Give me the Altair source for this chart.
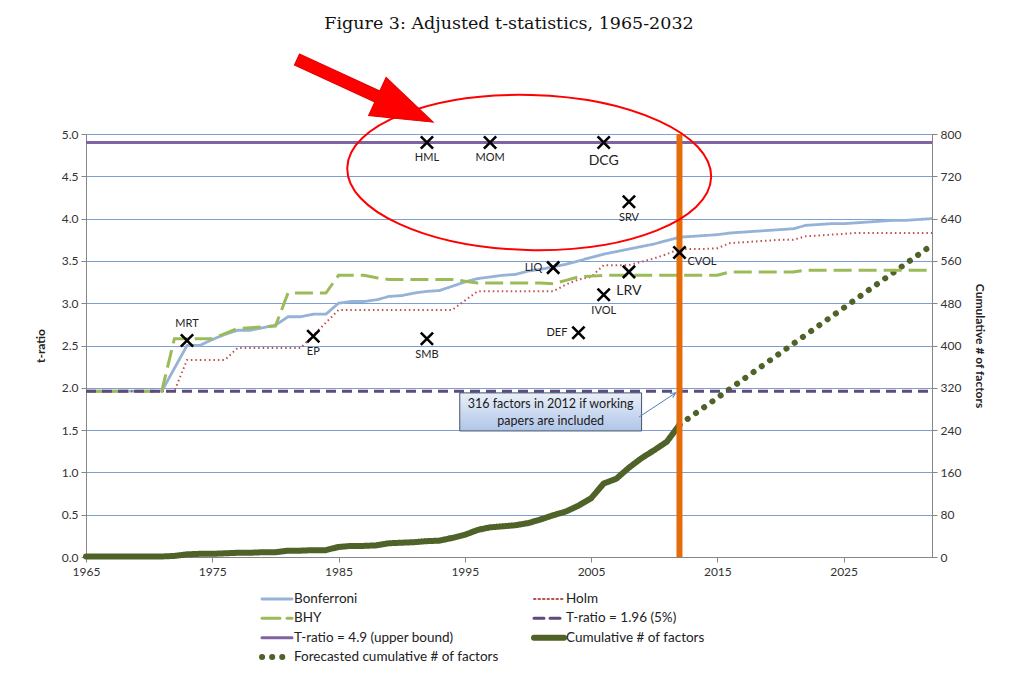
import altair as alt
import pandas as pd

# ---------------- data ----------------
years = list(range(1965, 2033))
bonferroni = [1.96, 1.96, 1.96, 1.96, 1.96, 1.96, 1.96, 2.23, 2.50, 2.50,
              2.57, 2.63, 2.68, 2.68, 2.71, 2.74, 2.84, 2.84, 2.87, 2.87,
              3.00, 3.02, 3.02, 3.04, 3.08, 3.09, 3.12, 3.14, 3.15, 3.20,
              3.25, 3.29, 3.31, 3.33, 3.34, 3.38, 3.40, 3.43, 3.46, 3.50,
              3.54, 3.58, 3.61, 3.64, 3.67, 3.70, 3.74, 3.78, 3.79, 3.80,
              3.81, 3.83, 3.84, 3.85, 3.86, 3.87, 3.88, 3.92, 3.93, 3.94,
              3.94, 3.95, 3.96, 3.97, 3.98, 3.98, 3.99, 4.00]
holm = [1.96, 1.96, 1.96, 1.96, 1.96, 1.96, 1.96, 1.96, 2.33, 2.33,
        2.33, 2.33, 2.47, 2.47, 2.47, 2.47, 2.47, 2.47, 2.62, 2.77,
        2.92, 2.92, 2.92, 2.92, 2.92, 2.92, 2.92, 2.92, 2.92, 2.92,
        3.03, 3.14, 3.14, 3.14, 3.14, 3.14, 3.14, 3.14, 3.22, 3.28,
        3.31, 3.45, 3.45, 3.45, 3.49, 3.53, 3.58, 3.64, 3.64, 3.64,
        3.65, 3.71, 3.72, 3.73, 3.74, 3.75, 3.75, 3.79, 3.80, 3.81,
        3.82, 3.83, 3.83, 3.83, 3.83, 3.83, 3.83, 3.83]
bhy = [1.96, 1.96, 1.96, 1.96, 1.96, 1.96, 1.96, 2.58, 2.58, 2.58,
       2.58, 2.64, 2.70, 2.71, 2.72, 2.73, 3.12, 3.12, 3.12, 3.12,
       3.33, 3.33, 3.33, 3.30, 3.28, 3.28, 3.28, 3.28, 3.28, 3.28,
       3.26, 3.24, 3.24, 3.24, 3.24, 3.24, 3.24, 3.23, 3.27, 3.31,
       3.32, 3.33, 3.33, 3.33, 3.33, 3.33, 3.33, 3.33, 3.33, 3.33,
       3.33, 3.37, 3.37, 3.37, 3.37, 3.37, 3.37, 3.39, 3.39, 3.39,
       3.39, 3.39, 3.39, 3.39, 3.39, 3.39, 3.39, 3.39]
threshold_years = [1965, 2032]
t_lower = 1.96
t_upper = 4.9

cum_years = list(range(1965, 2013))
cumulative = [1, 1, 1, 1, 1, 1, 1, 2, 5, 6,
              6, 7, 8, 8, 9, 9, 12, 12, 13, 13,
              19, 21, 21, 22, 26, 27, 28, 30, 31, 36,
              42, 51, 56, 58, 60, 64, 71, 79, 86, 97,
              111, 139, 148, 169, 187, 202, 218, 250]
fc_years = list(range(2012, 2033))
forecast = [250, 267, 284, 301, 318, 335, 352, 369, 386, 403, 420,
            437, 454, 471, 488, 505, 522, 539, 556, 573, 590]

series_names = ["Bonferroni", "Holm", "BHY", "T-ratio = 1.96 (5%)",
                "T-ratio = 4.9 (upper bound)", "Cumulative # of factors",
                "Forecasted cumulative # of factors"]

factor_names = ["MRT", "EP", "SMB", "HML", "MOM", "DCG", "SRV", "LIQ", "LRV", "IVOL", "DEF", "CVOL"]
factor_years = [1973, 1983, 1992, 1992, 1997, 2006, 2008, 2002, 2008, 2006, 2004, 2012]
factor_t = [2.56, 2.61, 2.58, 4.9, 4.9, 4.9, 4.20, 3.42, 3.37, 3.10, 2.65, 3.60]

cutoff_year = [2012]

callout_lines = ["316  factors in 2012 if  working", "papers are included"]
callout_line_t = [1.81, 1.61]
callout_year = 2001.8
callout_box_years = [1994.6, 2009.0]
callout_box_t = [1.49, 1.94]
pointer_years = [2008.8, 2011.7]
pointer_t = [1.655, 1.94]

ellipse_year = [2000.1]
ellipse_t = [4.545]
arrow_year = [1987.1]
arrow_t = [5.51]

# ---------------- tables ----------------
rows = []
for name, vals in [("Bonferroni", bonferroni), ("Holm", holm), ("BHY", bhy)]:
    rows += [{"year": y, "t": v, "series": name} for y, v in zip(years, vals)]
rows += [{"year": y, "t": t_lower, "series": "T-ratio = 1.96 (5%)"} for y in threshold_years]
rows += [{"year": y, "t": t_upper, "series": "T-ratio = 4.9 (upper bound)"} for y in threshold_years]
t_df = pd.DataFrame(rows)

c_rows = [{"year": y, "count": v, "series": "Cumulative # of factors"} for y, v in zip(cum_years, cumulative)]
c_rows += [{"year": y, "count": v, "series": "Forecasted cumulative # of factors"} for y, v in zip(fc_years, forecast)]
c_df = pd.DataFrame(c_rows)

factors_df = pd.DataFrame({"name": factor_names, "year": factor_years, "t": factor_t})

# legend entries, two per row (row-major, as in the reference)
leg_df = pd.DataFrame({"series": series_names,
                       "col": [i % 2 for i in range(len(series_names))],
                       "row": [i // 2 for i in range(len(series_names))]})

# ---------------- styling ----------------
FONT = "Lato"
style = {
    "Bonferroni": ("#95B3D7", [1, 0], 2.8),
    "Holm": ("#C0504D", [1.5, 3], 2),
    "BHY": ("#9BBB59", [18, 7], 3),
    "T-ratio = 1.96 (5%)": ("#604A7B", [10, 6], 3),
    "T-ratio = 4.9 (upper bound)": ("#8064A2", [1, 0], 3),
    "Cumulative # of factors": ("#4F6228", [1, 0], 6),
    "Forecasted cumulative # of factors": ("#4F6228", [0.1, 10], 6),
}
colors = [style[s][0] for s in series_names]
dashes = [style[s][1] for s in series_names]
widths = [style[s][2] for s in series_names]

color_scale = alt.Scale(type="ordinal", domain=series_names, range=colors)
dash_scale = alt.Scale(type="ordinal", domain=series_names, range=dashes)
width_scale = alt.Scale(type="ordinal", domain=series_names, range=widths)
color_enc = alt.Color("series:N", scale=color_scale, legend=None)
dash_enc = alt.StrokeDash("series:N", scale=dash_scale, legend=None)
width_enc = alt.StrokeWidth("series:O", scale=width_scale, legend=None)


def X(field="year", show=True):
    axis = alt.Axis(values=[1965, 1975, 1985, 1995, 2005, 2015, 2025], format="d", title=None,
                    grid=False, tickSize=5, domainColor="#868686", tickColor="#868686",
                    labelFont=FONT, labelFontSize=12, labelColor="#333333", labelPadding=4,
                    labelFlush=False) if show else None
    return alt.X(f"{field}:Q", scale=alt.Scale(domain=[1965, 2032], nice=False, zero=False), axis=axis)


def Y(field="t"):
    return alt.Y(f"{field}:Q", scale=alt.Scale(domain=[0, 5], nice=False, zero=True),
                 axis=alt.Axis(values=[0, 0.5, 1, 1.5, 2, 2.5, 3, 3.5, 4, 4.5, 5], format=".1f",
                               title="t-ratio", titleFont=FONT, titleFontSize=12, titleFontWeight="bold",
                               titleColor="#222222", titlePadding=14,
                               grid=True, gridColor="#7F9FD2", gridWidth=1,
                               tickSize=5, domainColor="#868686", tickColor="#868686",
                               labelFont=FONT, labelFontSize=12, labelColor="#333333", labelPadding=3))


# counts layer (right axis)
counts = alt.Chart(c_df).mark_line(strokeCap="round").encode(
    x=X(show=False),
    y=alt.Y("count:Q", scale=alt.Scale(domain=[0, 800], nice=False),
            axis=alt.Axis(orient="right", values=list(range(0, 801, 80)), title="Cumulative # of factors",
                          titleFont=FONT, titleFontSize=12, titleFontWeight="bold", titleColor="#222222",
                          titlePadding=12, grid=False, tickSize=5, domainColor="#868686",
                          tickColor="#868686", labelFont=FONT, labelFontSize=12,
                          labelColor="#333333", labelPadding=3)),
    color=color_enc, strokeDash=dash_enc, strokeWidth=width_enc, detail="series:N")

t_lines = alt.Chart(t_df).mark_line().encode(
    x=X(), y=Y(), color=color_enc, strokeDash=dash_enc, strokeWidth=width_enc, detail="series:N")

cutoff = alt.Chart(pd.DataFrame({"year": cutoff_year})).mark_rule(
    color="#E46C0A", strokeWidth=6).encode(x=X())

cross_shape = "M-1,-1L1,1M1,-1L-1,1"
crosses = alt.Chart(factors_df).mark_point(
    shape=cross_shape, filled=False, stroke="black", strokeWidth=2.6, size=150, opacity=1).encode(x=X(), y=Y())


def labels(names, **kw):
    return alt.Chart(factors_df).transform_filter(
        alt.FieldOneOfPredicate(field="name", oneOf=names)).mark_text(
        font=FONT, color="#222222", **kw).encode(x=X(), y=Y(), text="name:N")


lab_below = labels(["EP", "SMB", "HML", "MOM", "SRV", "IVOL"], fontSize=11, baseline="top", dy=10)
lab_below_big = labels(["DCG", "LRV"], fontSize=14, baseline="top", dy=12)
lab_above = labels(["MRT"], fontSize=11, baseline="bottom", dy=-11)
lab_left = labels(["LIQ", "DEF"], fontSize=11, align="right", baseline="middle", dx=-11)
lab_right = labels(["CVOL"], fontSize=11, align="left", baseline="middle", dx=8, dy=10)

ellipse_path = ("M1,0C1,0.235,0.5523,0.426,0,0.426C-0.5523,0.426,-1,0.235,-1,0"
                "C-1,-0.235,-0.5523,-0.426,0,-0.426C0.5523,-0.426,1,-0.235,1,0Z")
ellipse = alt.Chart(pd.DataFrame({"year": ellipse_year, "t": ellipse_t})).mark_point(
    shape=ellipse_path, filled=False, stroke="#FF0000", strokeWidth=2, size=364 ** 2,
    angle=1.5, opacity=1).encode(x=X(), y=Y())

arrow_path = "M-1,-0.08L0.18,-0.08L0.18,-0.28L1,0L0.18,0.28L0.18,0.08L-1,0.08Z"
arrow = alt.Chart(pd.DataFrame({"year": arrow_year, "t": arrow_t})).mark_point(
    shape=arrow_path, filled=True, fill="#FF0000", stroke="#E00000", strokeWidth=1,
    size=150 ** 2, angle=24.7, opacity=1).encode(x=X(), y=Y())

box = alt.Chart(pd.DataFrame({"year": [callout_box_years[0]], "year2": [callout_box_years[1]],
                              "t": [callout_box_t[0]], "t2": [callout_box_t[1]]})).mark_rect(
    fill=alt.Gradient(gradient="linear", x1=0, x2=0, y1=0, y2=1,
                      stops=[alt.GradientStop(color="#EAF0F9", offset=0),
                             alt.GradientStop(color="#AFC5E8", offset=1)]),
    stroke="#44546A", strokeWidth=1).encode(x=X(), x2="year2:Q", y=Y(), y2="t2:Q")

box_text = alt.Chart(pd.DataFrame({"year": [callout_year] * 2, "t": callout_line_t,
                                   "txt": callout_lines})).mark_text(
    font=FONT, fontSize=12.5, color="#1A1A1A", baseline="middle").encode(x=X(), y=Y(), text="txt:N")

pointer = alt.Chart(pd.DataFrame({"year": pointer_years, "t": pointer_t})).mark_line(
    color="#4F81BD", strokeWidth=1).encode(x=X(), y=Y())
pointer_head = alt.Chart(pd.DataFrame({"year": [pointer_years[1]], "t": [pointer_t[1]]})).mark_point(
    shape="M-0.8,1.6L0,0L0.8,1.6", filled=False, stroke="#4F81BD", strokeWidth=1,
    size=40, angle=58, opacity=1).encode(x=X(), y=Y())

t_layer = alt.layer(t_lines, cutoff, crosses, lab_below, lab_below_big, lab_above, lab_left,
                    lab_right, ellipse, arrow, box, box_text, pointer, pointer_head)

# ---------------- legend below the plot (own scales: column / row of each entry) ----------------
LX = alt.X("col:Q", scale=alt.Scale(domain=[0, 1], range=[191, 463]), axis=None)
LY = alt.Y("row:Q", scale=alt.Scale(domain=[0, 3], range=[465, 523]), axis=None)
leg_symbols = alt.Chart(leg_df).mark_point(
    shape="M-2,0L2,0", size=225, filled=False, strokeCap="round", opacity=1).encode(
    x=LX, y=LY,
    stroke=alt.Stroke("series:N", scale=color_scale, legend=None),
    strokeDash=dash_enc, strokeWidth=width_enc)
leg_labels = alt.Chart(leg_df).mark_text(
    align="left", baseline="middle", dx=17, font=FONT, fontSize=13.5, color="#222222").encode(
    x=LX, y=LY, text="series:N")
legend_layer = alt.layer(leg_symbols, leg_labels)

chart = alt.layer(counts, t_layer, legend_layer).resolve_scale(
    x="independent", y="independent").properties(
    width=846, height=423,
    title=alt.TitleParams("Figure 3: Adjusted t-statistics, 1965-2032", font="DejaVu Serif",
                          fontSize=17.5, fontWeight="normal", color="#111111", anchor="middle", offset=20),
    padding={"left": 26, "top": 6, "right": 5, "bottom": 5}
).configure_view(stroke=None).configure(background="white")

chart.save("out.html", embed_options={"renderer": "svg", "actions": False})
